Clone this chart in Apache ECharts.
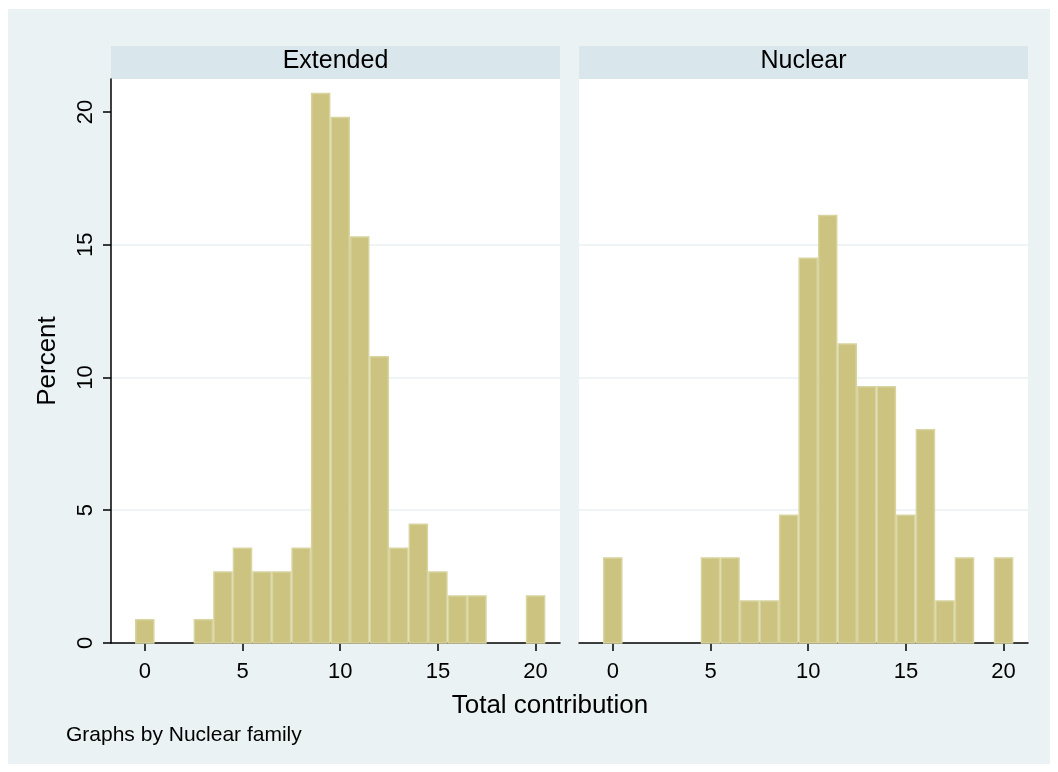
<!DOCTYPE html>
<html>
<head>
<meta charset="utf-8">
<script src="https://cdn.jsdelivr.net/npm/echarts@6/dist/echarts.min.js"></script>
<style>
html,body{margin:0;padding:0;background:#fff;}
#chart{width:1058px;height:772px;}
</style>
</head>
<body>
<div id="chart"></div>
<script>
// Bin centers (Total contribution), width 1
const bins = [0,1,2,3,4,5,6,7,8,9,10,11,12,13,14,15,16,17,18,19,20];
// Percent in each bin, Extended family (n≈111)
const extended = [0.90,0,0,0.90,2.70,3.60,2.70,2.70,3.60,20.72,19.82,15.32,10.81,3.60,4.50,2.70,1.80,1.80,0,0,1.80];
// Percent in each bin, Nuclear family (n≈62)
const nuclear = [3.23,0,0,0,0,3.23,3.23,1.61,1.61,4.84,14.52,16.13,11.29,9.68,9.68,4.84,8.06,1.61,3.23,0,3.23];
const panelTitles = ['Extended','Nuclear'];
const xTicks = [0,5,10,15,20];
const yTicks = [0,5,10,15,20];
const xTitle = 'Total contribution';
const yTitle = 'Percent';
const note = 'Graphs by Nuclear family';

const FONT = '"Liberation Sans", Arial, Helvetica, sans-serif';
const BAR_FILL = '#CBC37F';
const BAR_EDGE = '#D8D4A0';
const GRID_C = '#EAF2F3';

const chart = echarts.init(document.getElementById('chart'), null, {renderer:'canvas'});

function renderItem(params, api){
  const x = api.value(0), y = api.value(1);
  if (!y) return null;
  const p0 = api.coord([x - 0.5, 0]);
  const p1 = api.coord([x + 0.5, y]);
  return {
    type:'rect',
    shape:{x:p0[0]+0.75, y:p1[1]+0.75, width:p1[0]-p0[0]-1.5, height:p0[1]-p1[1]-0.75},
    style:{fill:BAR_FILL, stroke:BAR_EDGE, lineWidth:1.5}
  };
}

const grids = [
  {left:111, top:79, width:449, height:564},
  {left:579, top:79, width:449, height:564}
];

function xAxis(i){
  return {
    type:'value', gridIndex:i, min:-1.73, max:21.25,
    axisLine:{show:true, onZero:false, lineStyle:{color:'#000', width:1.5}},
    axisTick:{show:true, length:8, lineStyle:{color:'#000', width:1.5}, customValues:xTicks},
    axisLabel:{show:true, customValues:xTicks, color:'#000', fontFamily:FONT, fontSize:22, margin:18},
    splitLine:{show:false}
  };
}
function yAxis(i){
  return {
    type:'value', gridIndex:i, min:0, max:21.24, interval:5,
    axisLine:{show:i===0, onZero:false, lineStyle:{color:'#000', width:1.5}},
    axisTick:{show:i===0, length:8, lineStyle:{color:'#000', width:1.5}, customValues:yTicks},
    axisLabel:{show:i===0, customValues:yTicks, rotate:90, color:'#000', fontFamily:FONT, fontSize:22, margin:14},
    splitLine:{show:true, showMinLine:false, showMaxLine:false, lineStyle:{color:GRID_C, width:1.5}},
    name: i===0 ? yTitle : '',
    nameLocation:'middle', nameRotate:90, nameGap:50,
    nameTextStyle:{color:'#000', fontFamily:FONT, fontSize:26}
  };
}

const graphics = [
  {type:'rect', z:-10, silent:true, shape:{x:8, y:9, width:1042, height:755}, style:{fill:'#EAF2F3'}},
  {type:'rect', z:-9, silent:true, shape:{x:111, y:79, width:449, height:564}, style:{fill:'#fff'}},
  {type:'rect', z:-9, silent:true, shape:{x:579, y:79, width:449, height:564}, style:{fill:'#fff'}},
  {type:'rect', z:-9, silent:true, shape:{x:111, y:46, width:449, height:33}, style:{fill:'#D9E6EB'}},
  {type:'rect', z:-9, silent:true, shape:{x:579, y:46, width:449, height:33}, style:{fill:'#D9E6EB'}},
  {type:'text', silent:true, style:{text:panelTitles[0], x:335.5, y:61, textAlign:'center', textVerticalAlign:'middle', fontFamily:FONT, fontSize:25, fill:'#000'}},
  {type:'text', silent:true, style:{text:panelTitles[1], x:803.5, y:61, textAlign:'center', textVerticalAlign:'middle', fontFamily:FONT, fontSize:25, fill:'#000'}},
  {type:'text', silent:true, style:{text:xTitle, x:550, y:706, textAlign:'center', textVerticalAlign:'middle', fontFamily:FONT, fontSize:26, fill:'#000'}},
  {type:'text', silent:true, style:{text:note, x:66, y:735, textAlign:'left', textVerticalAlign:'middle', fontFamily:FONT, fontSize:21, fill:'#000'}}
];

chart.setOption({
  backgroundColor:'#fff',
  animation:false,
  grid:grids,
  xAxis:[xAxis(0), xAxis(1)],
  yAxis:[yAxis(0), yAxis(1)],
  graphic:graphics,
  series:[
    {type:'custom', xAxisIndex:0, yAxisIndex:0, renderItem, data:bins.map((b,i)=>[b, extended[i]]), z:3},
    {type:'custom', xAxisIndex:1, yAxisIndex:1, renderItem, data:bins.map((b,i)=>[b, nuclear[i]]), z:3}
  ]
});
</script>
</body>
</html>
